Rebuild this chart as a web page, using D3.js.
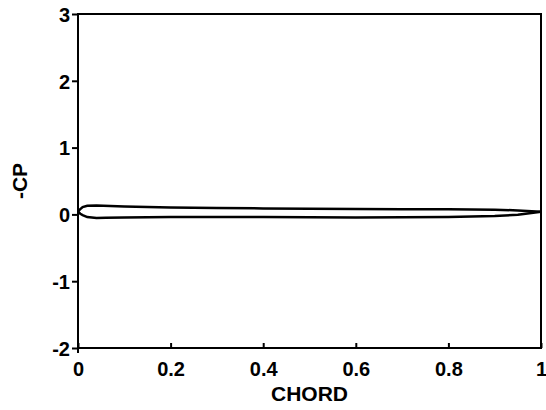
<!DOCTYPE html>
<html>
<head>
<meta charset="utf-8">
<script src="https://cdn.jsdelivr.net/npm/d3@7"></script>
<style>
  body { margin: 0; background: #fff; }
  svg { display: block; }
  .tick-label { font-family: "Liberation Sans", Arial, sans-serif; font-weight: bold; font-size: 20px; fill: #000; }
  .axis-title { font-family: "Liberation Sans", Arial, sans-serif; font-weight: bold; font-size: 21px; fill: #000; }
</style>
</head>
<body>
<div id="chart"></div>
<script>
// chord stations and -CP values
var upperX  = [0, 0.005, 0.01, 0.02, 0.04, 0.1, 0.2, 0.3, 0.4, 0.5, 0.6, 0.7, 0.8, 0.85, 0.9, 0.95, 1.0];
var upperCp = [0.04, 0.08, 0.11, 0.13, 0.135, 0.12, 0.105, 0.095, 0.09, 0.085, 0.08, 0.078, 0.076, 0.075, 0.07, 0.06, 0.04];

var lowerX  = [0, 0.005, 0.01, 0.02, 0.04, 0.06, 0.1, 0.2, 0.4, 0.6, 0.8, 0.9, 0.95, 1.0];
var lowerCp = [0.04, 0.01, -0.01, -0.04, -0.055, -0.05, -0.045, -0.04, -0.04, -0.045, -0.04, -0.025, -0.005, 0.04];

var xTicks = [0, 0.2, 0.4, 0.6, 0.8, 1];
var xTickLabels = ["0", "0.2", "0.4", "0.6", "0.8", "1"];
var yTicks = [-2, -1, 0, 1, 2, 3];
var yTickLabels = ["-2", "-1", "0", "1", "2", "3"];

var margin = { top: 14, right: 5, bottom: 62, left: 78 };
var width = 546 - margin.left - margin.right;
var height = 410 - margin.top - margin.bottom;

var svg = d3.select("#chart").append("svg")
    .attr("width", 546)
    .attr("height", 410)
    .append("g")
    .attr("transform", "translate(" + margin.left + "," + margin.top + ")");

var x = d3.scaleLinear().domain([0, 1]).range([0, width]);
var y = d3.scaleLinear().domain([-2, 3]).range([height, 0]);

// frame
svg.append("rect")
    .attr("x", 0).attr("y", 0)
    .attr("width", width).attr("height", height)
    .style("fill", "none")
    .style("stroke", "#000")
    .style("stroke-width", 2);

// x axis: ticks point inward
var xAxis = d3.axisBottom(x).tickValues(xTicks).tickSize(-5).tickPadding(9)
    .tickFormat(function(d, i){ return xTickLabels[i]; });
var gx = svg.append("g")
    .attr("transform", "translate(0," + height + ")")
    .call(xAxis);
gx.select(".domain").remove();
gx.selectAll("line").style("stroke", "#000").style("stroke-width", 2);
gx.selectAll("text").attr("class", "tick-label").attr("dy", "0.72em").attr("y", 14);

// y axis: ticks point outward
var yAxis = d3.axisLeft(y).tickValues(yTicks).tickSize(6).tickPadding(2)
    .tickFormat(function(d, i){ return yTickLabels[i]; });
var gy = svg.append("g").call(yAxis);
gy.select(".domain").remove();
gy.selectAll("line").style("stroke", "#000").style("stroke-width", 2);
gy.selectAll("text").attr("class", "tick-label").attr("dy", "0.36em");

// small extension of the y axis below the corner
svg.append("line")
    .attr("x1", x(0)).attr("x2", x(0))
    .attr("y1", y(-2)).attr("y2", y(-2) + 5)
    .style("stroke", "#000").style("stroke-width", 2);

// axis titles
svg.append("text")
    .attr("class", "axis-title")
    .attr("x", width / 2)
    .attr("y", height + 53)
    .attr("text-anchor", "middle")
    .text("CHORD");

svg.append("text")
    .attr("class", "axis-title")
    .attr("transform", "translate(" + (-51) + "," + y(0.5) + ") rotate(-90)")
    .attr("text-anchor", "middle")
    .text("-CP");

// curves
var line = d3.line()
    .x(function(d){ return x(d[0]); })
    .y(function(d){ return y(d[1]); });

svg.append("path")
    .datum(d3.zip(upperX, upperCp))
    .attr("d", line)
    .style("fill", "none").style("stroke", "#000").style("stroke-width", 2.5);

svg.append("path")
    .datum(d3.zip(lowerX, lowerCp))
    .attr("d", line)
    .style("fill", "none").style("stroke", "#000").style("stroke-width", 2.5);
</script>
</body>
</html>
